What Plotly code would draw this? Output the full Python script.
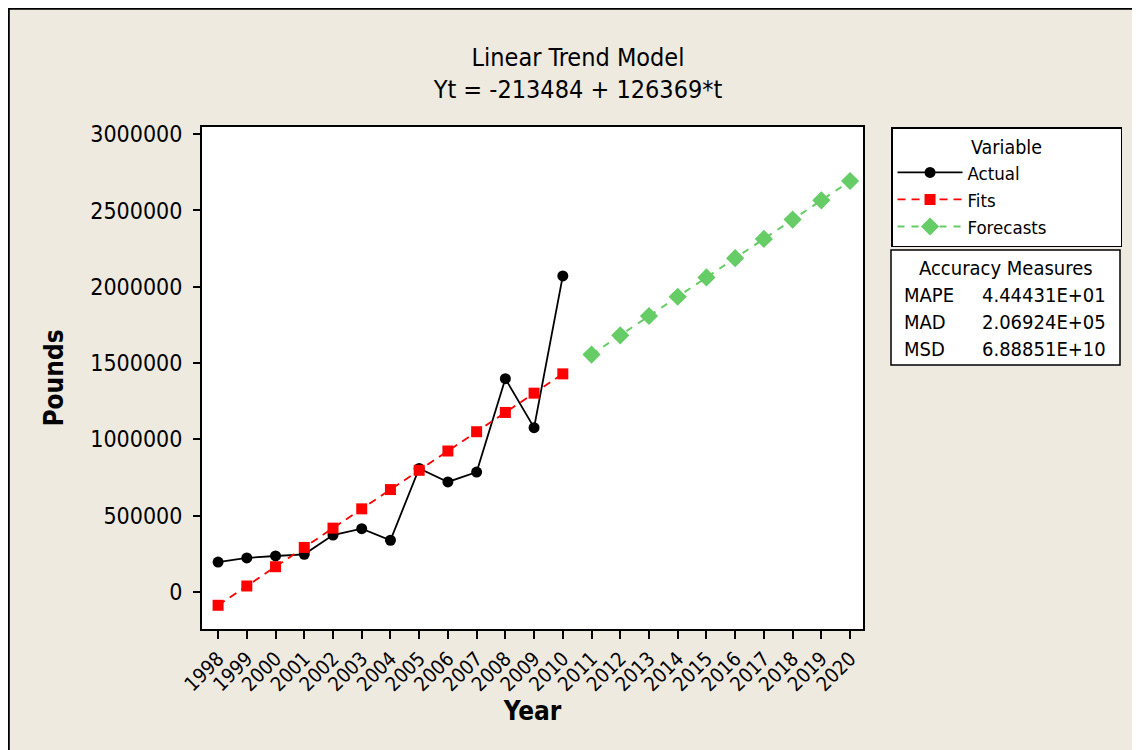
import plotly.graph_objects as go

years_actual = [1998, 1999, 2000, 2001, 2002, 2003, 2004, 2005, 2006, 2007, 2008, 2009, 2010]
actual = [196000, 223000, 236000, 247000, 373000, 415000, 339000, 810000, 721000, 786000, 1398000, 1077000, 2071000]
fits = [-87115, 39254, 165623, 291992, 418361, 544730, 671099, 797468, 923837, 1050206, 1176575, 1302944, 1429313]
years_fc = [2011, 2012, 2013, 2014, 2015, 2016, 2017, 2018, 2019, 2020]
forecasts = [1555682, 1682051, 1808420, 1934789, 2061158, 2187527, 2313896, 2440265, 2566634, 2693003]
year_ticks = list(range(1998, 2021))
y_ticks = [0, 500000, 1000000, 1500000, 2000000, 2500000, 3000000]
measure_names = ["MAPE", "MAD", "MSD"]
measure_values = ["4.44431E+01", "2.06924E+05", "6.88851E+10"]

FONT = "DejaVu Sans Condensed"
BG = "#EEEAE0"
GREEN = "#66CC66"
NB = "\u00a0"

fig = go.Figure()
fig.add_trace(go.Scatter(x=years_actual, y=actual, name="Actual", mode="lines+markers",
                         line=dict(color="black", width=1.8),
                         marker=dict(symbol="circle", size=11, color="black")))
fig.add_trace(go.Scatter(x=years_actual, y=fits, name="Fits", mode="lines+markers",
                         line=dict(color="red", width=1.8, dash="8px,6px"),
                         marker=dict(symbol="square", size=11, color="red")))
fig.add_trace(go.Scatter(x=years_fc, y=forecasts, name="Forecasts" + NB * 13, mode="lines+markers",
                         line=dict(color=GREEN, width=2, dash="7px,7px"),
                         marker=dict(symbol="diamond", size=14, color=GREEN)))

fig.update_layout(
    width=1140, height=750,
    paper_bgcolor=BG, plot_bgcolor="white",
    margin=dict(l=194, r=285, t=119, b=129),
    font=dict(family=FONT, color="black"),
    title=dict(text="Linear Trend Model<br>Yt = -213484 + 126369*t",
               x=0.5, xref="container", xanchor="center", y=0.923, yanchor="top",
               font=dict(size=25, family=FONT)),
    xaxis=dict(range=[1997.44, 2020.45], tickvals=year_ticks, ticktext=[str(y) for y in year_ticks],
               tickangle=-45, ticks="outside", ticklen=8, tickcolor="black", tickwidth=1.5,
               showgrid=False, zeroline=False, showline=True, linecolor="black", linewidth=2,
               mirror=True, tickfont=dict(size=20),
               title=dict(text="<b>Year</b>", font=dict(size=26), standoff=4)),
    yaxis=dict(range=[-242500, 3047000], tickvals=y_ticks, ticktext=[str(v) for v in y_ticks],
               ticks="outside", ticklen=7, tickcolor="black", tickwidth=1.5, ticklabelstandoff=6,
               showgrid=False, zeroline=False, showline=True, linecolor="black", linewidth=2,
               mirror=True, tickfont=dict(size=23),
               title=dict(text="<b>Pounds</b>", font=dict(size=26), standoff=19)),
    legend=dict(x=1.0424, xanchor="left", y=1.0, yanchor="top",
                bgcolor="white", bordercolor="black", borderwidth=1.5,
                title=dict(text="Variable", side="top center", font=dict(size=19.5)),
                font=dict(size=18.5), itemwidth=65, tracegroupgap=0),
)

px = lambda v: (v - 202) / 661
py = lambda v: (629 - v) / 502

# outer frame
fig.add_shape(type="rect", xref="paper", yref="paper",
              x0=px(8.8), x1=px(1160), y0=py(770), y1=py(8.8),
              line=dict(color="black", width=2), fillcolor="rgba(0,0,0,0)", layer="below")

# accuracy measures box
fig.add_shape(type="rect", xref="paper", yref="paper",
              x0=px(891), x1=px(1120), y0=py(365), y1=py(250),
              line=dict(color="black", width=1.5), fillcolor="white")
fig.add_annotation(xref="paper", yref="paper", x=px(1006), y=py(268), text="Accuracy Measures",
                   showarrow=False, font=dict(size=20), xanchor="center", yanchor="middle")
for i, (n, v) in enumerate(zip(measure_names, measure_values)):
    yy = py(295 + i * 27)
    fig.add_annotation(xref="paper", yref="paper", x=px(902), y=yy, text=n, showarrow=False,
                       font=dict(size=20), xanchor="left", yanchor="middle")
    fig.add_annotation(xref="paper", yref="paper", x=px(1108), y=yy, text=v, showarrow=False,
                       font=dict(size=20), xanchor="right", yanchor="middle")

fig.write_html("out.html")
